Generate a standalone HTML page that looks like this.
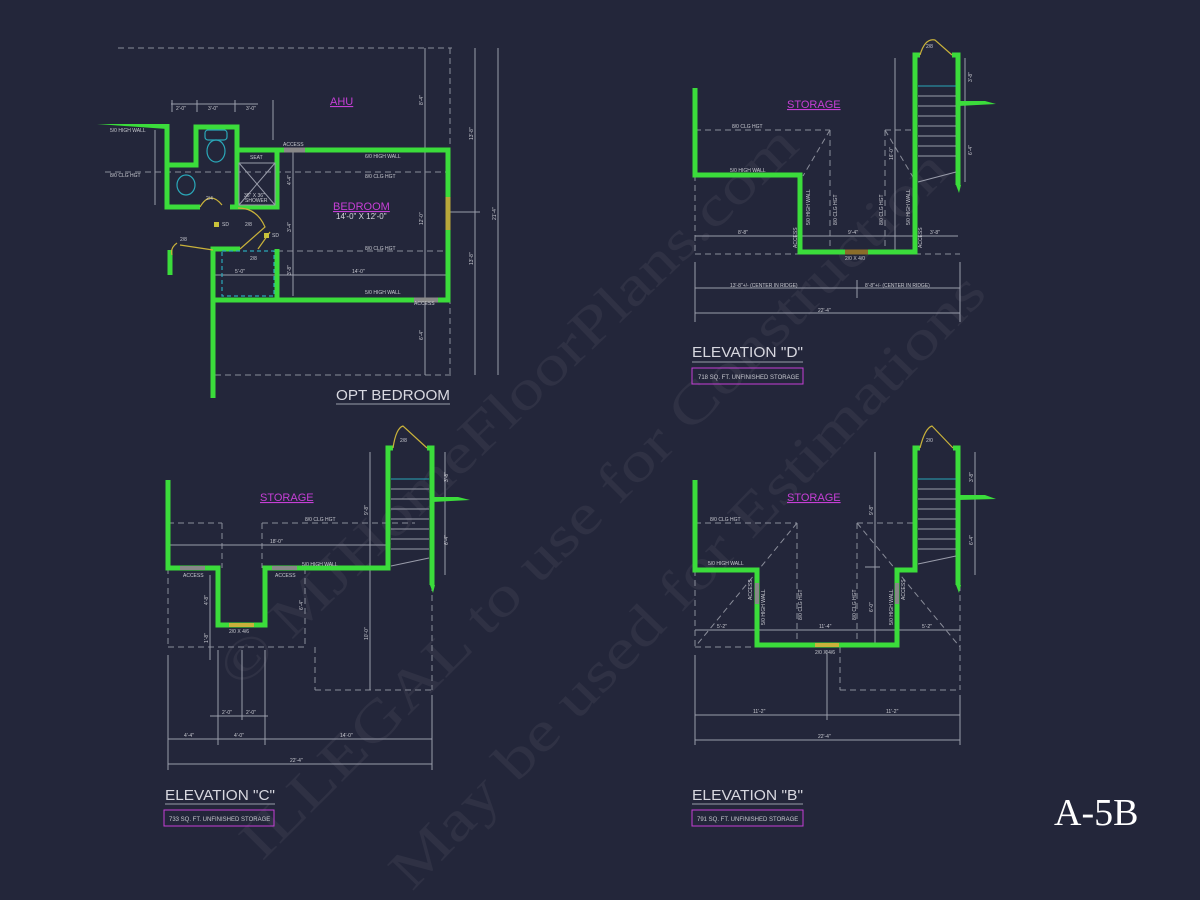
<!DOCTYPE html>
<html><head><meta charset="utf-8"><style>
html,body{margin:0;padding:0;background:#23263a;}
svg{display:block}
text{font-family:"Liberation Sans",sans-serif;}
text.sf{font-family:"Liberation Serif",serif;}
</style></head><body>
<svg width="1200" height="900" viewBox="0 0 1200 900" xmlns="http://www.w3.org/2000/svg">
<rect width="1200" height="900" fill="#23263a"/>
<!-- watermark -->
<g fill="#ffffff" opacity="0.05" font-size="56">
<text class="sf" transform="translate(240,690) rotate(-44)" textLength="780" lengthAdjust="spacingAndGlyphs">© MJHomeFloorPlans.com</text>
<text class="sf" transform="translate(262,862) rotate(-45)" textLength="975" lengthAdjust="spacingAndGlyphs">ILLEGAL to use for Construction</text>
<text class="sf" transform="translate(412,892) rotate(-46)" textLength="830" lengthAdjust="spacingAndGlyphs">May be used for Estimations</text>
</g>
<defs><style>
.w{fill:none;stroke:#3bdc3b;stroke-width:5;stroke-linejoin:miter}
.d{fill:none;stroke:#8a8d9a;stroke-width:1;stroke-dasharray:6 4}
.l{fill:none;stroke:#9a9dab;stroke-width:1}
.c{fill:none;stroke:#2aa7b8;stroke-width:1.2}
.y{fill:none;stroke:#c9b23a;stroke-width:1.2}
.t{fill:#c8c9d0;font-size:5px}
.m{fill:#c63fd6;font-size:11px;text-decoration:underline}
</style></defs>

<!-- ============ OPT BEDROOM ============ -->
<g>
<line class="d" x1="118" y1="48" x2="452" y2="48"/>
<line class="d" x1="215" y1="375" x2="452" y2="375"/>
<line class="d" x1="450" y1="48" x2="450" y2="375"/>
<line class="l" x1="425" y1="48" x2="425" y2="375"/>
<line class="l" x1="475" y1="48" x2="475" y2="375"/>
<line class="l" x1="498" y1="48" x2="498" y2="375"/>
<line class="d" x1="105" y1="172" x2="450" y2="172"/>
<line class="d" x1="277" y1="251" x2="450" y2="251"/>
<line class="l" x1="213" y1="275" x2="450" y2="275"/>
<line class="l" x1="293" y1="150" x2="293" y2="296"/>
<line class="l" x1="171" y1="104" x2="258" y2="104"/>
<line class="l" x1="172" y1="100" x2="172" y2="112"/><line class="l" x1="197" y1="100" x2="197" y2="112"/><line class="l" x1="235" y1="100" x2="235" y2="112"/><line class="l" x1="273" y1="100" x2="273" y2="140"/>
<line class="l" x1="155" y1="130" x2="155" y2="205"/>
<line class="l" x1="450" y1="212" x2="480" y2="212"/>
<polygon points="97,124 167,124 167,129" fill="#3bdc3b"/>
<polyline class="w" points="167,124 167,207 200,207"/>
<polyline class="w" points="167,165 196,165 196,127 237,127 237,207"/>
<polyline class="w" points="237,150 448,150 448,300 213,300"/>
<polyline class="w" points="277,150 277,207 230,207"/>
<polyline class="w" points="213,398 213,249 240,249"/>
<polyline class="w" points="277,249 277,300"/>
<polyline class="w" points="170,250 170,275"/>
<line x1="448" y1="197" x2="448" y2="230" stroke="#b9a83a" stroke-width="5"/>
<line x1="284" y1="150" x2="305" y2="150" stroke="#888" stroke-width="5"/>
<line x1="414" y1="300" x2="438" y2="300" stroke="#888" stroke-width="5"/>
<rect class="c" x="205" y="130" width="22" height="10" rx="3"/>
<ellipse class="c" cx="216" cy="151" rx="9" ry="11"/>
<ellipse class="c" cx="186" cy="185" rx="9" ry="10"/>
<rect class="l" x="239" y="163" width="36" height="42"/>
<line class="l" x1="239" y1="163" x2="275" y2="205"/><line class="l" x1="275" y1="163" x2="239" y2="205"/>
<rect class="c" x="222" y="251" width="52" height="45" stroke-dasharray="4 3"/>
<path class="y" d="M200,207 Q210,190 222,205"/>
<path class="y" d="M180,245 L213,250"/><path class="y" d="M177,243 Q170,248 172,255"/>
<path class="y" d="M240,249 L265,227 Q257,208 238,208"/>
<path class="y" d="M258,249 L270,232"/>
<rect x="214" y="222" width="5" height="5" fill="#c9c23a"/><rect x="264" y="233" width="5" height="5" fill="#c9c23a"/>
<text class="m" x="330" y="105" font-size="10">AHU</text>
<text class="m" x="333" y="210">BEDROOM</text>
<text x="336" y="219" fill="#d8d8e0" font-size="8">14'-0" X 12'-0"</text>
<text class="t" x="110" y="132">5/0 HIGH WALL</text>
<text class="t" x="110" y="177">8/0 CLG HGT</text>
<text class="t" x="365" y="158">6/0 HIGH WALL</text>
<text class="t" x="365" y="178">8/0 CLG HGT</text>
<text class="t" x="365" y="250">8/0 CLG HGT</text>
<text class="t" x="365" y="294">5/0 HIGH WALL</text>
<text class="t" x="283" y="146">ACCESS</text>
<text class="t" x="414" y="305">ACCESS</text>
<text class="t" x="250" y="159">SEAT</text>
<text class="t" x="244" y="197">36" X 36"</text><text class="t" x="245" y="202">SHOWER</text>
<text class="t" x="176" y="110">2'-0"</text><text class="t" x="208" y="110">3'-0"</text><text class="t" x="246" y="110">3'-0"</text>
<text class="t" x="206" y="200">2/4</text><text class="t" x="245" y="226">2/8</text><text class="t" x="180" y="241">2/8</text><text class="t" x="250" y="260">2/8</text>
<text class="t" x="222" y="226">SD</text><text class="t" x="272" y="237">SD</text>
<text class="t" x="235" y="273">5'-0"</text><text class="t" x="352" y="273">14'-0"</text>
<text class="t" transform="translate(423,105) rotate(-90)">8'-4"</text>
<text class="t" transform="translate(423,225) rotate(-90)">12'-0"</text>
<text class="t" transform="translate(423,340) rotate(-90)">6'-4"</text>
<text class="t" transform="translate(473,140) rotate(-90)">13'-8"</text>
<text class="t" transform="translate(473,265) rotate(-90)">13'-8"</text>
<text class="t" transform="translate(496,220) rotate(-90)">21'-4"</text>
<text class="t" transform="translate(291,185) rotate(-90)">4'-4"</text>
<text class="t" transform="translate(291,232) rotate(-90)">3'-4"</text>
<text class="t" transform="translate(291,275) rotate(-90)">3'-8"</text>
<text x="336" y="400" fill="#d8d8e0" font-size="15" textLength="114" lengthAdjust="spacingAndGlyphs">OPT BEDROOM</text>
<line class="l" x1="336" y1="404" x2="450" y2="404"/>
</g>

<!-- ============ ELEVATION D ============ -->
<g>
<line class="d" x1="695" y1="130" x2="830" y2="130"/>
<line class="d" x1="830" y1="130" x2="803" y2="176"/>
<line class="d" x1="830" y1="130" x2="830" y2="252"/>
<line class="d" x1="885" y1="130" x2="915" y2="130"/>
<line class="d" x1="885" y1="130" x2="913" y2="177"/>
<line class="d" x1="885" y1="130" x2="885" y2="252"/>
<line class="d" x1="695" y1="254" x2="960" y2="254"/>
<line class="d" x1="695" y1="175" x2="695" y2="254"/>
<line class="l" x1="695" y1="236" x2="958" y2="236"/>
<line class="l" x1="695" y1="288" x2="960" y2="288"/>
<line class="l" x1="857" y1="280" x2="857" y2="298"/>
<line class="l" x1="695" y1="313" x2="960" y2="313"/>
<line class="l" x1="695" y1="262" x2="695" y2="322"/><line class="l" x1="960" y1="262" x2="960" y2="322"/>
<line class="l" x1="895" y1="58" x2="895" y2="252"/>
<line class="l" x1="965" y1="58" x2="965" y2="182"/>
<polyline class="w" points="695,88 695,175 800,175 800,252 915,252 915,55 920,55"/>
<polyline class="w" points="952,55 958,55 958,185"/>
<polygon points="956,185 961,185 959,193" fill="#3bdc3b"/>
<polygon points="958,101 985,101 996,104 958,106" fill="#3bdc3b"/>
<line x1="845" y1="252" x2="868" y2="252" stroke="#8a6d2a" stroke-width="5"/>
<g class="l"><line x1="918" y1="86" x2="956" y2="86" stroke="#2aa7b8"/><line x1="918" y1="96" x2="956" y2="96"/><line x1="918" y1="106" x2="956" y2="106"/><line x1="918" y1="116" x2="956" y2="116"/><line x1="918" y1="126" x2="956" y2="126"/><line x1="918" y1="136" x2="956" y2="136"/><line x1="918" y1="146" x2="956" y2="146"/><line x1="918" y1="156" x2="956" y2="156"/><line x1="918" y1="182" x2="956" y2="172"/></g>
<path class="y" d="M920,55 Q925,38 935,40 L952,55"/>
<text class="m" x="787" y="108">STORAGE</text>
<text class="t" x="732" y="128">8/0 CLG HGT</text>
<text class="t" x="730" y="172">5/0 HIGH WALL</text>
<text class="t" x="738" y="234">8'-8"</text><text class="t" x="848" y="234">9'-4"</text><text class="t" x="930" y="234">3'-8"</text>
<text class="t" x="845" y="260">2/0 X 4/0</text>
<text class="t" x="730" y="287">13'-8"+/- (CENTER IN RIDGE)</text>
<text class="t" x="865" y="287">8'-8"+/- (CENTER IN RIDGE)</text>
<text class="t" x="818" y="312">22'-4"</text>
<text class="t" x="926" y="48">2/8</text>
<text class="t" transform="translate(810,225) rotate(-90)">5/0 HIGH WALL</text>
<text class="t" transform="translate(837,225) rotate(-90)">8/0 CLG HGT</text>
<text class="t" transform="translate(883,225) rotate(-90)">8/0 CLG HGT</text>
<text class="t" transform="translate(910,225) rotate(-90)">5/0 HIGH WALL</text>
<text class="t" transform="translate(797,248) rotate(-90)">ACCESS</text>
<text class="t" transform="translate(922,248) rotate(-90)">ACCESS</text>
<text class="t" transform="translate(893,160) rotate(-90)">16'-0"</text>
<text class="t" transform="translate(972,82) rotate(-90)">3'-8"</text>
<text class="t" transform="translate(972,155) rotate(-90)">6'-4"</text>
<text x="692" y="357" fill="#d8d8e0" font-size="15" textLength="111" lengthAdjust="spacingAndGlyphs">ELEVATION "D"</text>
<line class="l" x1="692" y1="362" x2="803" y2="362"/>
<rect x="692" y="368" width="111" height="16" fill="none" stroke="#c63fd6" stroke-width="1"/>
<text x="698" y="379" fill="#c8c9d0" font-size="6">718 SQ. FT. UNFINISHED STORAGE</text>
</g>

<!-- ============ ELEVATION C ============ -->
<g>
<line class="d" x1="168" y1="523" x2="222" y2="523"/>
<line class="d" x1="222" y1="523" x2="222" y2="568"/>
<line class="d" x1="262" y1="523" x2="415" y2="523"/>
<line class="d" x1="262" y1="523" x2="262" y2="568"/>
<line class="d" x1="168" y1="647" x2="305" y2="647"/>
<line class="d" x1="168" y1="568" x2="168" y2="647"/>
<line class="d" x1="305" y1="568" x2="305" y2="647"/>
<line class="d" x1="315" y1="647" x2="315" y2="690"/>
<line class="d" x1="315" y1="690" x2="432" y2="690"/>
<line class="d" x1="432" y1="585" x2="432" y2="690"/>
<line class="l" x1="168" y1="545" x2="388" y2="545"/>
<line class="l" x1="168" y1="739" x2="432" y2="739"/>
<line class="l" x1="168" y1="764" x2="432" y2="764"/>
<line class="l" x1="168" y1="655" x2="168" y2="770"/><line class="l" x1="432" y1="695" x2="432" y2="770"/>
<line class="l" x1="218" y1="650" x2="218" y2="745"/><line class="l" x1="242" y1="650" x2="242" y2="720"/><line class="l" x1="265" y1="650" x2="265" y2="745"/>
<line class="l" x1="210" y1="716" x2="268" y2="716"/>
<line class="l" x1="210" y1="575" x2="210" y2="660"/>
<line class="l" x1="370" y1="452" x2="370" y2="690"/>
<line class="l" x1="445" y1="452" x2="445" y2="575"/>
<polyline class="w" points="168,480 168,568 218,568 218,625 265,625 265,568 388,568 388,448 393,448"/>
<polyline class="w" points="427,448 432,448 432,585"/>
<polygon points="430,585 435,585 433,593" fill="#3bdc3b"/>
<polygon points="432,497 458,497 470,500 432,502" fill="#3bdc3b"/>
<line x1="180" y1="568" x2="205" y2="568" stroke="#888" stroke-width="4"/>
<line x1="272" y1="568" x2="297" y2="568" stroke="#888" stroke-width="4"/>
<line x1="229" y1="625" x2="254" y2="625" stroke="#c9b23a" stroke-width="4"/>
<g class="l"><line x1="391" y1="479" x2="429" y2="479" stroke="#2aa7b8"/><line x1="391" y1="489" x2="429" y2="489"/><line x1="391" y1="499" x2="429" y2="499"/><line x1="391" y1="509" x2="429" y2="509"/><line x1="391" y1="519" x2="429" y2="519"/><line x1="391" y1="529" x2="429" y2="529"/><line x1="391" y1="539" x2="429" y2="539"/><line x1="391" y1="549" x2="429" y2="549"/><line x1="391" y1="566" x2="429" y2="558"/></g>
<path class="y" d="M393,448 Q396,428 403,426 L427,448"/>
<text class="m" x="260" y="501">STORAGE</text>
<text class="t" x="305" y="521">8/0 CLG HGT</text>
<text class="t" x="270" y="543">18'-0"</text>
<text class="t" x="302" y="566">5/0 HIGH WALL</text>
<text class="t" x="183" y="577">ACCESS</text><text class="t" x="275" y="577">ACCESS</text>
<text class="t" x="229" y="633">2/0 X 4/6</text>
<text class="t" x="222" y="714">2'-0"</text><text class="t" x="246" y="714">2'-0"</text>
<text class="t" x="184" y="737">4'-4"</text><text class="t" x="234" y="737">4'-0"</text><text class="t" x="340" y="737">14'-0"</text>
<text class="t" x="290" y="762">22'-4"</text>
<text class="t" x="400" y="442">2/8</text>
<text class="t" transform="translate(208,605) rotate(-90)">4'-8"</text>
<text class="t" transform="translate(208,643) rotate(-90)">1'-8"</text>
<text class="t" transform="translate(303,610) rotate(-90)">6'-4"</text>
<text class="t" transform="translate(368,515) rotate(-90)">9'-8"</text>
<text class="t" transform="translate(368,640) rotate(-90)">10'-0"</text>
<text class="t" transform="translate(448,482) rotate(-90)">3'-8"</text>
<text class="t" transform="translate(448,545) rotate(-90)">6'-4"</text>
<text x="165" y="800" fill="#d8d8e0" font-size="15" textLength="110" lengthAdjust="spacingAndGlyphs">ELEVATION "C"</text>
<line class="l" x1="165" y1="804" x2="275" y2="804"/>
<rect x="164" y="810" width="110" height="16" fill="none" stroke="#c63fd6" stroke-width="1"/>
<text x="169" y="821" fill="#c8c9d0" font-size="6">733 SQ. FT. UNFINISHED STORAGE</text>
</g>

<!-- ============ ELEVATION B ============ -->
<g>
<line class="d" x1="695" y1="523" x2="797" y2="523"/>
<line class="d" x1="797" y1="523" x2="695" y2="647"/>
<line class="d" x1="797" y1="523" x2="797" y2="645"/>
<line class="d" x1="695" y1="647" x2="757" y2="647"/>
<line class="d" x1="695" y1="570" x2="695" y2="647"/>
<line class="d" x1="857" y1="523" x2="915" y2="523"/>
<line class="d" x1="857" y1="523" x2="960" y2="647"/>
<line class="d" x1="857" y1="523" x2="857" y2="645"/>
<line class="d" x1="840" y1="647" x2="840" y2="690"/>
<line class="d" x1="840" y1="690" x2="960" y2="690"/>
<line class="d" x1="960" y1="585" x2="960" y2="690"/>
<line class="l" x1="695" y1="630" x2="960" y2="630"/>
<line class="l" x1="695" y1="715" x2="960" y2="715"/>
<line class="l" x1="695" y1="740" x2="960" y2="740"/>
<line class="l" x1="827" y1="650" x2="827" y2="720"/>
<line class="l" x1="695" y1="655" x2="695" y2="745"/><line class="l" x1="960" y1="695" x2="960" y2="745"/>
<line class="l" x1="875" y1="452" x2="875" y2="645"/>
<line class="l" x1="865" y1="567" x2="880" y2="567"/>
<line class="l" x1="975" y1="452" x2="975" y2="575"/>
<polyline class="w" points="695,480 695,570 757,570 757,645 897,645 897,570 915,570 915,448 920,448"/>
<polyline class="w" points="953,448 958,448 958,585"/>
<polygon points="956,585 961,585 959,593" fill="#3bdc3b"/>
<polygon points="958,495 985,495 996,499 958,500" fill="#3bdc3b"/>
<line x1="757" y1="583" x2="757" y2="604" stroke="#888" stroke-width="4"/>
<line x1="897" y1="583" x2="897" y2="604" stroke="#888" stroke-width="4"/>
<line x1="815" y1="645" x2="839" y2="645" stroke="#c9b23a" stroke-width="4"/>
<g class="l"><line x1="918" y1="479" x2="956" y2="479" stroke="#2aa7b8"/><line x1="918" y1="489" x2="956" y2="489"/><line x1="918" y1="499" x2="956" y2="499"/><line x1="918" y1="509" x2="956" y2="509"/><line x1="918" y1="519" x2="956" y2="519"/><line x1="918" y1="529" x2="956" y2="529"/><line x1="918" y1="539" x2="956" y2="539"/><line x1="918" y1="549" x2="956" y2="549"/><line x1="918" y1="564" x2="956" y2="556"/></g>
<path class="y" d="M920,448 Q925,428 932,426 L953,448"/>
<text class="m" x="787" y="501">STORAGE</text>
<text class="t" x="710" y="521">8/0 CLG HGT</text>
<text class="t" x="708" y="565">5/0 HIGH WALL</text>
<text class="t" x="717" y="628">5'-2"</text><text class="t" x="819" y="628">11'-4"</text><text class="t" x="922" y="628">5'-2"</text>
<text class="t" x="815" y="654">2/0 X 4/6</text>
<text class="t" x="753" y="713">11'-2"</text><text class="t" x="886" y="713">11'-2"</text>
<text class="t" x="818" y="738">22'-4"</text>
<text class="t" x="926" y="442">2/0</text>
<text class="t" transform="translate(752,600) rotate(-90)">ACCESS</text>
<text class="t" transform="translate(765,625) rotate(-90)">5/0 HIGH WALL</text>
<text class="t" transform="translate(802,620) rotate(-90)">8/0 CLG HGT</text>
<text class="t" transform="translate(856,620) rotate(-90)">8/0 CLG HGT</text>
<text class="t" transform="translate(893,625) rotate(-90)">5/0 HIGH WALL</text>
<text class="t" transform="translate(905,600) rotate(-90)">ACCESS</text>
<text class="t" transform="translate(873,515) rotate(-90)">9'-8"</text>
<text class="t" transform="translate(873,612) rotate(-90)">6'-0"</text>
<text class="t" transform="translate(973,482) rotate(-90)">3'-8"</text>
<text class="t" transform="translate(973,545) rotate(-90)">6'-4"</text>
<text x="692" y="800" fill="#d8d8e0" font-size="15" textLength="111" lengthAdjust="spacingAndGlyphs">ELEVATION "B"</text>
<line class="l" x1="692" y1="804" x2="803" y2="804"/>
<rect x="692" y="810" width="111" height="16" fill="none" stroke="#c63fd6" stroke-width="1"/>
<text x="697" y="821" fill="#c8c9d0" font-size="6">791 SQ. FT. UNFINISHED STORAGE</text>
</g>

<text class="sf" x="1054" y="825" fill="#ffffff" font-size="38">A-5B</text>
</svg>
</body></html>
